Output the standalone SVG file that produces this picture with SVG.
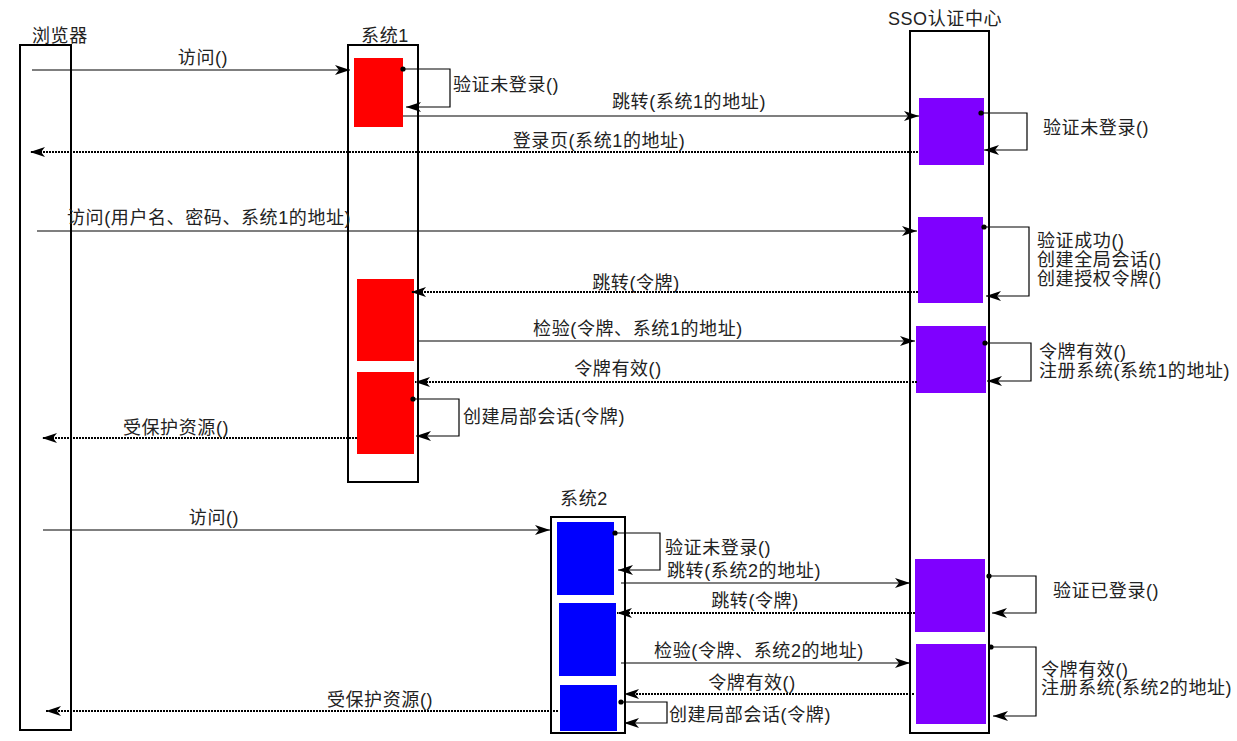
<svg xmlns="http://www.w3.org/2000/svg" width="1237" height="741" viewBox="0 0 1237 741">
<style>
text{font-family:"Liberation Sans","Noto Sans CJK SC",sans-serif;font-size:18px;fill:#222;letter-spacing:0.6px}
.m{text-anchor:middle}
.life{fill:none;stroke:#000;stroke-width:2}
.red{fill:#FF0000}
.pur{fill:#7F00FF}
.blu{fill:#0000FF}
.c{fill:none;stroke:#000;stroke-width:1.2;marker-end:url(#ah)}
.d{fill:none;stroke:#000;stroke-width:2;stroke-dasharray:2 1;marker-end:url(#ah)}
.loop{fill:none;stroke:#000;stroke-width:1.2;marker-start:url(#dot);marker-end:url(#ah)}
</style>
<defs>
<marker id="ah" markerUnits="userSpaceOnUse" markerWidth="16" markerHeight="12" refX="15" refY="5" orient="auto" overflow="visible">
<path d="M0,0 L15,5 L0,10 L4,5 Z" fill="#000"/>
</marker>
<marker id="dot" markerUnits="userSpaceOnUse" markerWidth="6" markerHeight="6" refX="3" refY="3" overflow="visible">
<circle cx="3" cy="3" r="2.6" fill="#000"/>
</marker>
</defs>
<rect width="1237" height="741" fill="#fff"/>

<g id="browser">
<rect class="life" x="20" y="45" width="51" height="685"/>
<text x="32" y="42">浏览器</text>
</g>
<g id="system1">
<rect class="life" x="348" y="45" width="70" height="437"/>
<text class="m" x="385" y="42">系统1</text>
<rect class="red" x="354" y="58" width="49" height="69"/>
<rect class="red" x="357" y="279" width="57" height="82"/>
<rect class="red" x="357" y="372" width="57" height="82"/>
</g>
<g id="sso">
<rect class="life" x="910" y="31" width="79" height="702"/>
<text class="m" x="945" y="25">SSO认证中心</text>
<rect class="pur" x="919" y="98" width="65" height="67"/>
<rect class="pur" x="918" y="217" width="65" height="86"/>
<rect class="pur" x="916" y="326" width="70" height="67"/>
<rect class="pur" x="915" y="559" width="70" height="73"/>
<rect class="pur" x="916" y="644" width="70" height="80"/>
</g>
<g id="system2">
<rect class="life" x="551" y="517" width="74" height="216"/>
<text class="m" x="584" y="505">系统2</text>
<rect class="blu" x="557" y="522" width="57" height="73"/>
<rect class="blu" x="559" y="603" width="57" height="73"/>
<rect class="blu" x="560" y="685" width="57" height="46"/>
</g>

<g id="connectors">
<path class="c" d="M32,70 H350"/>
<path class="loop" d="M403,69 H450 V107 H406"/>
<path class="c" d="M403,116 H919"/>
<path class="loop" d="M981,113 H1027 V150 H984"/>
<path class="d" d="M918,152 H30"/>
<path class="c" d="M37,231 H917"/>
<path class="loop" d="M984,227 H1029 V296 H986"/>
<path class="d" d="M918,292 H411"/>
<path class="c" d="M418,341 H915"/>
<path class="loop" d="M985,343 H1031 V381 H987"/>
<path class="d" d="M917,382 H415"/>
<path class="loop" d="M413,399 H459 V436 H416"/>
<path class="d" d="M357,438 H42"/>
<path class="c" d="M43,530 H550"/>
<path class="loop" d="M615,533 H660 V570 H618"/>
<path class="c" d="M621,583 H910"/>
<path class="loop" d="M989,576 H1036 V613 H992"/>
<path class="d" d="M915,613 H617"/>
<path class="c" d="M621,663 H910"/>
<path class="loop" d="M991,647 H1036 V716 H993"/>
<path class="d" d="M914,694 H624"/>
<path class="loop" d="M621,702 H667 V723 H624"/>
<path class="d" d="M558,711 H46"/>
</g>

<g id="labels">
<text class="m" x="203" y="64">访问()</text>
<text x="453" y="91">验证未登录()</text>
<text class="m" x="689" y="108">跳转(系统1的地址)</text>
<text x="1043" y="134">验证未登录()</text>
<text class="m" x="599" y="147">登录页(系统1的地址)</text>
<text x="67" y="224">访问(用户名、密码、系统1的地址)</text>
<text x="1037" y="247">验证成功()</text>
<text x="1037" y="266">创建全局会话()</text>
<text x="1037" y="285">创建授权令牌()</text>
<text class="m" x="636" y="289">跳转(令牌)</text>
<text class="m" x="638" y="335">检验(令牌、系统1的地址)</text>
<text x="1039" y="358">令牌有效()</text>
<text x="1039" y="377">注册系统(系统1的地址)</text>
<text class="m" x="618" y="375">令牌有效()</text>
<text x="463" y="423">创建局部会话(令牌)</text>
<text class="m" x="176" y="434">受保护资源()</text>
<text class="m" x="214" y="524">访问()</text>
<text x="665" y="554">验证未登录()</text>
<text x="667" y="577">跳转(系统2的地址)</text>
<text x="1053" y="597">验证已登录()</text>
<text class="m" x="755" y="607">跳转(令牌)</text>
<text class="m" x="759" y="657">检验(令牌、系统2的地址)</text>
<text x="1041" y="676">令牌有效()</text>
<text x="1041" y="694">注册系统(系统2的地址)</text>
<text class="m" x="752" y="689">令牌有效()</text>
<text x="669" y="721">创建局部会话(令牌)</text>
<text class="m" x="380" y="706">受保护资源()</text>
</g>
</svg>
